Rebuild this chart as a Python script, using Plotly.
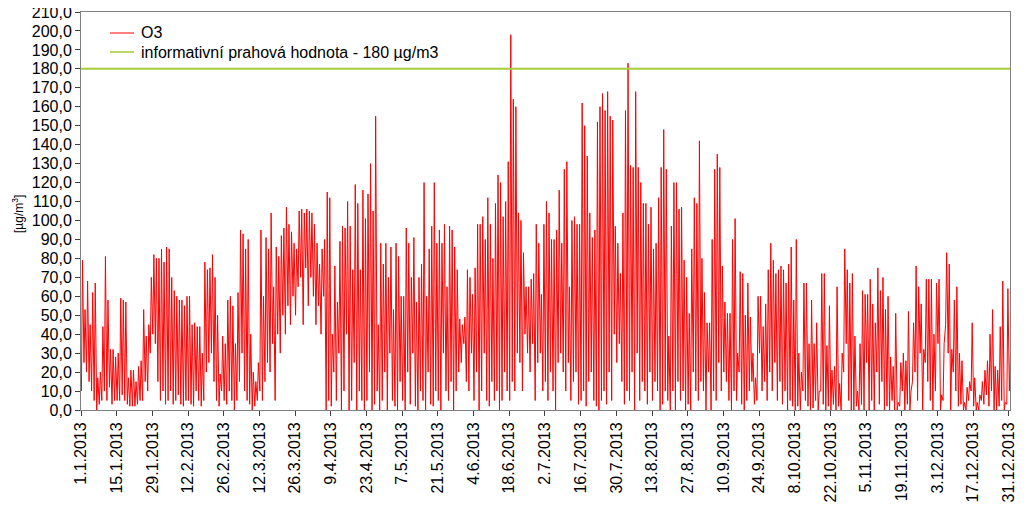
import pandas as pd
import plotly.graph_objects as go

# Daily maximum / minimum hourly O3 values (µg/m3), 1.1.2013 .. 31.12.2013
O3_DAILY_MAX = [
    79, 53, 68, 45, 62, 67, 17, 20, 44, 81, 58, 32, 32, 28,
    30, 59, 58, 57, 17, 21, 21, 15, 23, 26, 53, 39, 45, 70,
    82, 80, 80, 85, 78, 86, 85, 70, 63, 60, 58, 58, 55, 60,
    60, 45, 46, 44, 44, 30, 78, 74, 75, 82, 70, 50, 19, 39,
    35, 58, 60, 55, 35, 62, 95, 93, 85, 90, 40, 20, 15, 25,
    95, 60, 91, 85, 104, 65, 86, 81, 92, 96, 107, 98, 94, 88,
    85, 105, 106, 104, 106, 105, 104, 98, 88, 77, 85, 90, 115, 112,
    40, 76, 57, 89, 97, 96, 110, 97, 74, 119, 109, 74, 116, 101,
    114, 130, 105, 155, 45, 88, 77, 88, 70, 86, 53, 88, 81, 60,
    60, 96, 88, 70, 91, 57, 70, 77, 120, 60, 85, 97, 120, 88,
    95, 88, 98, 65, 97, 95, 86, 74, 48, 45, 49, 74, 70, 61,
    75, 98, 98, 102, 90, 112, 98, 80, 109, 124, 120, 102, 110, 131,
    198, 164, 160, 104, 100, 83, 65, 65, 69, 72, 98, 88, 61, 98,
    110, 104, 90, 90, 95, 116, 88, 127, 131, 65, 100, 102, 98, 98,
    162, 150, 134, 104, 91, 95, 152, 160, 167, 158, 168, 155, 153, 97,
    88, 72, 104, 158, 183, 129, 128, 168, 128, 120, 109, 109, 98, 107,
    85, 88, 112, 128, 148, 127, 39, 97, 120, 120, 106, 107, 79, 70,
    51, 85, 112, 109, 142, 80, 62, 46, 46, 90, 127, 135, 128, 76,
    57, 51, 51, 90, 101, 30, 73, 72, 50, 67, 49, 30, 17, 60,
    60, 44, 56, 74, 88, 79, 72, 74, 76, 74, 67, 77, 86, 58,
    90, 30, 20, 67, 67, 35, 58, 35, 46, 10, 72, 72, 34, 55,
    21, 23, 65, 14, 30, 85, 74, 67, 72, 39, 10, 35, 63, 61,
    61, 69, 56, 46, 75, 63, 70, 53, 60, 28, 23, 51, 4, 25,
    30, 26, 52, 10, 46, 76, 65, 56, 32, 69, 69, 69, 40, 67,
    69, 8, 35, 83, 77, 32, 58, 65, 30, 26, 4, 12, 15, 46,
    17, 4, 8, 15, 21, 26, 40, 53, 23, 21, 44, 68, 4, 64, 30,
]

O3_DAILY_MIN = [
    10, 25, 20, 15, 10, 5, 0, 3, 5, 10, 5, 12, 3, 5,
    5, 5, 8, 5, 3, 2, 2, 2, 3, 5, 5, 15, 10, 30,
    40, 35, 15, 5, 10, 3, 5, 10, 3, 5, 8, 3, 2, 5,
    5, 3, 2, 10, 5, 2, 5, 20, 25, 30, 15, 5, 2, 10,
    5, 3, 10, 5, 0, 5, 15, 30, 10, 5, 3, 0, 2, 5,
    10, 5, 15, 25, 20, 35, 5, 40, 30, 50, 40, 55, 45, 60,
    50, 65, 70, 45, 75, 55, 70, 60, 45, 55, 40, 60, 0, 5,
    2, 20, 5, 30, 0, 10, 40, 0, 5, 25, 0, 10, 5, 0,
    5, 20, 0, 3, 10, 0, 5, 20, 0, 30, 5, 2, 0, 15,
    5, 0, 20, 3, 30, 2, 0, 10, 5, 0, 20, 3, 2, 10,
    5, 0, 30, 10, 5, 15, 0, 10, 20, 25, 35, 15, 10, 30,
    5, 20, 0, 10, 30, 5, 2, 15, 5, 10, 0, 5, 20, 10,
    5, 15, 10, 30, 25, 10, 40, 30, 20, 35, 5, 25, 30, 10,
    15, 5, 20, 10, 0, 25, 30, 20, 10, 25, 5, 15, 20, 3,
    5, 10, 2, 15, 20, 5, 2, 0, 5, 10, 3, 20, 5, 40,
    25, 35, 15, 3, 10, 5, 20, 0, 30, 5, 15, 10, 3, 20,
    5, 15, 10, 0, 3, 10, 5, 0, 10, 0, 15, 5, 10, 0,
    3, 0, 20, 10, 5, 15, 10, 0, 20, 0, 10, 5, 25, 10,
    20, 15, 5, 0, 10, 5, 20, 3, 0, 5, 10, 15, 3, 5,
    30, 10, 15, 5, 20, 10, 25, 5, 15, 3, 10, 0, 5, 2,
    0, 2, 0, 10, 5, 2, 0, 1, 5, 0, 10, 3, 0, 2,
    0, 3, 0, 2, 0, 20, 35, 5, 0, 0, 2, 0, 3, 0,
    25, 0, 5, 0, 20, 3, 15, 0, 2, 0, 5, 0, 0, 2,
    10, 0, 3, 0, 15, 20, 5, 30, 0, 25, 15, 5, 0, 10,
    35, 0, 5, 45, 30, 0, 20, 10, 2, 3, 0, 0, 5, 10,
    2, 0, 0, 5, 3, 8, 2, 10, 0, 0, 2, 5, 0, 3, 10,
]

THRESHOLD = 180
THRESHOLD_NAME = "informativní prahová hodnota - 180 µg/m3"
SERIES_NAME = "O3"

TICK_DATES = [
    "2013-01-01", "2013-01-15", "2013-01-29", "2013-02-12", "2013-02-26",
    "2013-03-12", "2013-03-26", "2013-04-09", "2013-04-23", "2013-05-07",
    "2013-05-21", "2013-06-04", "2013-06-18", "2013-07-02", "2013-07-16",
    "2013-07-30", "2013-08-13", "2013-08-27", "2013-09-10", "2013-09-24",
    "2013-10-08", "2013-10-22", "2013-11-05", "2013-11-19", "2013-12-03",
    "2013-12-17", "2013-12-31",
]
TICK_LABELS = [
    "1.1.2013", "15.1.2013", "29.1.2013", "12.2.2013", "26.2.2013",
    "12.3.2013", "26.3.2013", "9.4.2013", "23.4.2013", "7.5.2013",
    "21.5.2013", "4.6.2013", "18.6.2013", "2.7.2013", "16.7.2013",
    "30.7.2013", "13.8.2013", "27.8.2013", "10.9.2013", "24.9.2013",
    "8.10.2013", "22.10.2013", "5.11.2013", "19.11.2013", "3.12.2013",
    "17.12.2013", "31.12.2013",
]
Y_TICKS = list(range(0, 211, 10))
Y_LABELS = [f"{v},0" for v in Y_TICKS]

days = pd.date_range("2013-01-01", periods=len(O3_DAILY_MAX), freq="D")
xs, ys = [], []
for d, lo, hi in zip(days, O3_DAILY_MIN, O3_DAILY_MAX):
    xs.append(d + pd.Timedelta(hours=4))
    ys.append(min(lo, hi))
    xs.append(d + pd.Timedelta(hours=14))
    ys.append(hi)

x_start = pd.Timestamp("2013-01-01 00:00")
x_end = pd.Timestamp("2013-12-31 10:00")

FONT = "Arial, 'Liberation Sans', sans-serif"
RED = "#ff0000"
GREEN = "#a8cc3a"

# plot area in page pixels: x 81..1010, y 12..410 (page has an 8px body margin)
PX0, PX1, PY0, PY1 = 81, 1010, 12, 410


def px(x):
    return (x - PX0) / (PX1 - PX0)


def py(y):
    return (PY1 - y) / (PY1 - PY0)


fig = go.Figure()
fig.add_trace(go.Scatter(
    x=xs, y=ys, mode="lines", name=SERIES_NAME,
    line=dict(color=RED, width=1), showlegend=False,
))
fig.add_trace(go.Scatter(
    x=[x_start, x_end], y=[THRESHOLD, THRESHOLD], mode="lines",
    name=THRESHOLD_NAME, line=dict(color=GREEN, width=2), showlegend=False,
))

shapes = [
    dict(type="line", xref="paper", yref="paper", x0=px(110), x1=px(134),
         y0=py(33), y1=py(33), line=dict(color=RED, width=1)),
    dict(type="line", xref="paper", yref="paper", x0=px(110), x1=px(134),
         y0=py(52), y1=py(52), line=dict(color=GREEN, width=1.5)),
]
annotations = [
    dict(text=SERIES_NAME, xref="paper", yref="paper", x=px(139), y=py(33),
         xanchor="left", yanchor="middle", showarrow=False,
         font=dict(size=16, family=FONT)),
    dict(text=THRESHOLD_NAME, xref="paper", yref="paper", x=px(139), y=py(52),
         xanchor="left", yanchor="middle", showarrow=False,
         font=dict(size=16, family=FONT)),
    dict(text="[µg/m<sup>3</sup>]", xref="paper", yref="paper",
         x=px(18), y=py(214), xanchor="center", yanchor="middle",
         showarrow=False, textangle=-90, font=dict(size=12, family=FONT)),
]

fig.update_layout(
    width=1016, height=512,
    margin=dict(l=PX0 - 8, r=1024 - PX1, t=PY0 - 8, b=520 - PY1),
    paper_bgcolor="white", plot_bgcolor="white",
    font=dict(family=FONT, size=16, color="black"),
    showlegend=False,
    shapes=shapes,
    annotations=annotations,
    xaxis=dict(
        type="date", range=[x_start, x_end],
        tickmode="array", tickvals=TICK_DATES, ticktext=TICK_LABELS,
        tickangle=-90, ticks="outside", ticklen=5, tickcolor="#404040",
        showline=True, linecolor="#808080", linewidth=1, mirror=True,
        showgrid=False, zeroline=False, automargin=False,
        ticklabeloverflow="allow",
        tickfont=dict(size=16, family=FONT),
    ),
    yaxis=dict(
        range=[0, 210], tickmode="array", tickvals=Y_TICKS, ticktext=Y_LABELS,
        ticks="outside", ticklen=5, tickcolor="#404040",
        showline=True, linecolor="#808080", linewidth=1, mirror=True,
        showgrid=False, zeroline=False, automargin=False,
        ticklabeloverflow="allow",
        tickfont=dict(size=16, family=FONT),
    ),
)

fig.write_html("out.html")
